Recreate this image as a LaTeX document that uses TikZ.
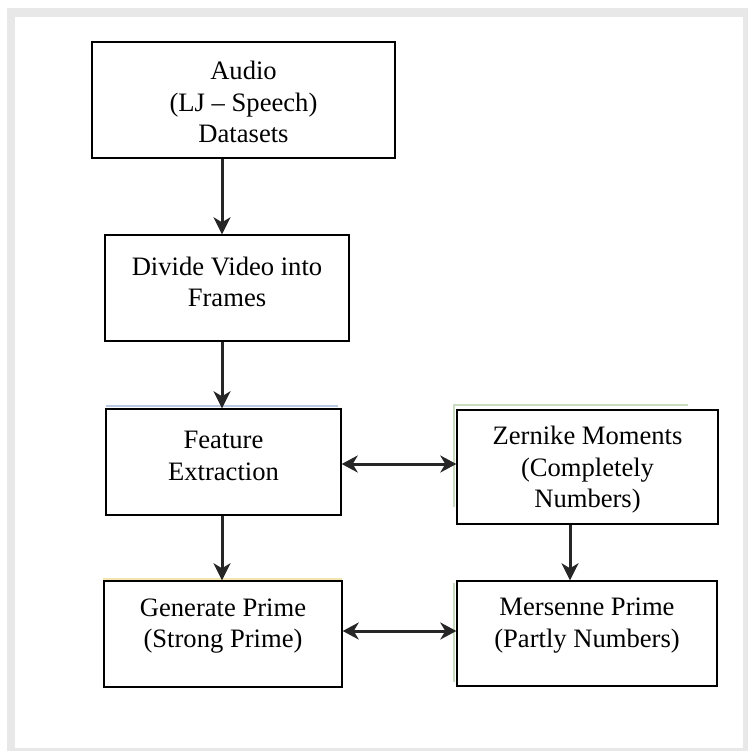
\documentclass[tikz,border=0pt]{standalone}
\usepackage{fontspec}
\setmainfont{Liberation Serif}
\usepackage{xcolor}
\usetikzlibrary{arrows.meta}

\definecolor{framegray}{HTML}{E8E8E8}
\definecolor{arrowgray}{HTML}{262626}
\definecolor{ghostblue}{HTML}{B9C9E2}
\definecolor{ghostgreen}{HTML}{C9DCBF}
\definecolor{ghostyellow}{HTML}{F2E6AE}

\tikzset{
  blockbox/.style={draw=black, line width=1.4pt, fill=white, inner sep=0pt},
  blocktext/.style={align=center, inner sep=0pt, font=\fontsize{26.6}{31.5}\selectfont},
  flowarrow/.style={draw=arrowgray, line width=3pt, -{Stealth[length=17pt,width=17pt,inset=5pt]}},
  twoarrow/.style={draw=arrowgray, line width=3pt, {Stealth[length=16pt,width=17pt,inset=5pt]}-{Stealth[length=16pt,width=17pt,inset=5pt]}},
  ghostline/.style={line width=1.2pt},
}

\begin{document}
\begin{tikzpicture}[x=1pt,y=-1pt]
            \useasboundingbox (0,0) rectangle (748,751);
            \fill[framegray] (7,8) rectangle (748,751);
            \fill[white] (15,17) rectangle (743,748);

            % faint lines left over round some boxes
            \draw[ghostline, ghostblue] (106,406)--(338,406);
            \draw[ghostline, ghostgreen] (454,507)--(454,405)--(688,405);
            \draw[ghostline, ghostgreen] (454,583)--(454,682);
            \draw[ghostline, ghostyellow] (104,683)--(104,579)--(342,579);

            % boxes
            \node[blockbox, minimum width=303pt, minimum height=116pt] (audio) at (243.5,100) {};
            \node[blockbox, minimum width=244pt, minimum height=106pt] (divide) at (227,288) {};
            \node[blockbox, minimum width=235pt, minimum height=106pt] (feature) at (223.5,462) {};
            \node[blockbox, minimum width=261pt, minimum height=114pt] (zernike) at (587.5,467) {};
            \node[blockbox, minimum width=238pt, minimum height=106pt] (generate) at (223,634) {};
            \node[blockbox, minimum width=260pt, minimum height=105pt] (mersenne) at (587,633.5) {};

            % texts
            \node[blocktext] (audiotext) at ([yshift=-2pt]audio.center) {Audio\\(LJ – Speech)\\Datasets};
            \node[blocktext] (dividetext) at ([yshift=6pt]divide.center) {Divide Video into\\Frames};
            \node[blocktext] (featuretext) at ([yshift=6pt]feature.center) {Feature\\Extraction};
            \node[blocktext] (zerniketext) at ([yshift=-3pt]zernike.center) {Zernike Moments\\(Completely\\Numbers)};
            \node[blocktext] (generatetext) at ([yshift=8pt]generate.center) {Generate Prime\\(Strong Prime)};
            \node[blocktext] (mersennetext) at ([yshift=8pt]mersenne.center) {Mersenne Prime\\(Partly Numbers)};

            % arrows
            \coordinate (leftcol) at (222,0);
            \coordinate (rightcol) at (570,0);
            \coordinate (toprow) at (0,464);
            \coordinate (lowrow) at (0,631);
            \draw[flowarrow] (leftcol |- audio.south)--(leftcol |- divide.north);
            \draw[flowarrow] (leftcol |- divide.south)--(leftcol |- feature.north);
            \draw[flowarrow] (leftcol |- feature.south)--(leftcol |- generate.north);
            \draw[flowarrow] (rightcol |- zernike.south)--(rightcol |- mersenne.north);
            \draw[twoarrow] (feature.east |- toprow)--(zernike.west |- toprow);
            \draw[twoarrow] (generate.east |- lowrow)--(mersenne.west |- lowrow);
        \end{tikzpicture}
\end{document}
